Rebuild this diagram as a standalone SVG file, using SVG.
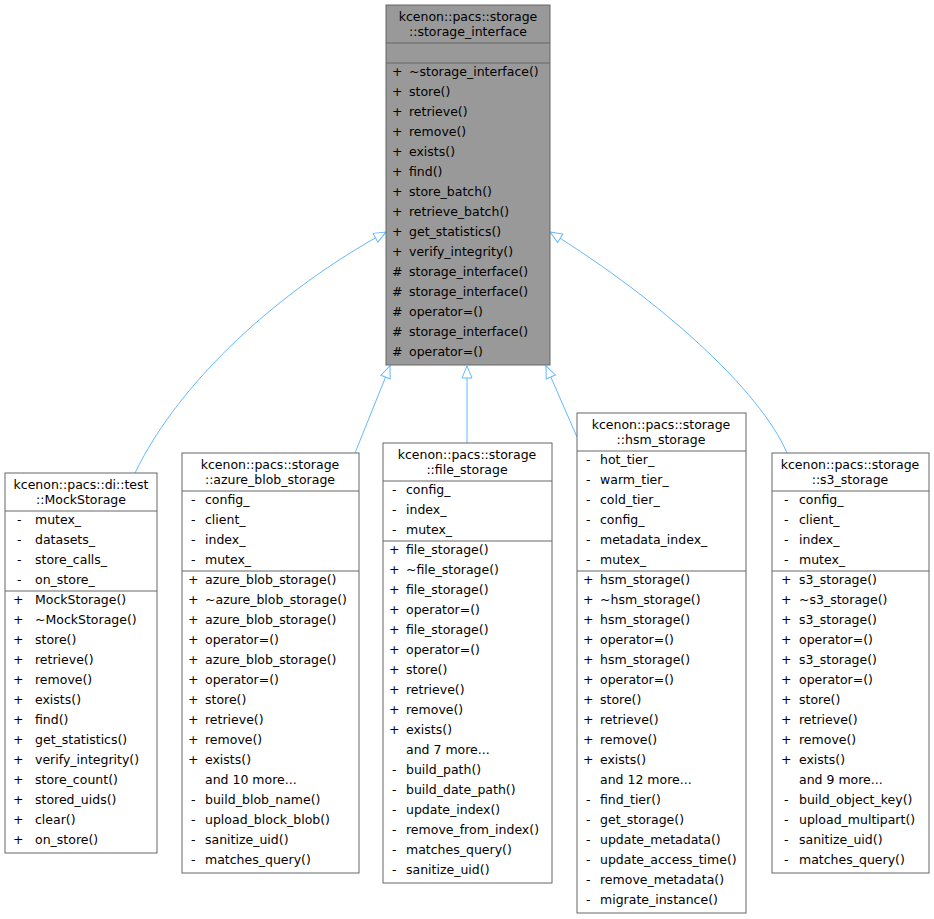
<svg xmlns="http://www.w3.org/2000/svg" width="934" height="919" viewBox="0 0 934 919">
<style>
text{font-family:"DejaVu Sans",sans-serif;font-size:12.5px;fill:#000}
.t{text-anchor:middle}
.b{fill:#fff;stroke:#666;stroke-width:1}
.g{fill:#999;stroke:#666;stroke-width:1}
.l{stroke:#666;stroke-width:1}
.e{fill:none;stroke:#63b8ff;stroke-width:1}
</style>
<defs><marker id="a" markerWidth="14" markerHeight="12" refX="13" refY="6" orient="auto" markerUnits="userSpaceOnUse"><path d="M1,1 L13,6 L1,11 Z" fill="#fff" stroke="#63b8ff"/></marker></defs>
<g id="edges">
<path class="e" d="M135,473 C180,380 280,290 386,232" marker-end="url(#a)"/>
<path class="e" d="M355,453 L390,366" marker-end="url(#a)"/>
<path class="e" d="M467,443 L467,366" marker-end="url(#a)"/>
<path class="e" d="M577,437 L546,366" marker-end="url(#a)"/>
<path class="e" d="M787,453 C760,390 660,300 550,232" marker-end="url(#a)"/>
</g>
<g id="storage_interface">
<rect class="g" x="386" y="5" width="164" height="360"/>
<line class="l" x1="386" y1="43" x2="550" y2="43"/><line class="l" x1="386" y1="63" x2="550" y2="63"/>
<text class="t" x="468" y="21">kcenon::pacs::storage</text><text class="t" x="468" y="36">::storage_interface</text>
<text x="392" y="76">+</text><text x="409" y="76">~storage_interface()</text>
<text x="392" y="96">+</text><text x="409" y="96">store()</text>
<text x="392" y="116">+</text><text x="409" y="116">retrieve()</text>
<text x="392" y="136">+</text><text x="409" y="136">remove()</text>
<text x="392" y="156">+</text><text x="409" y="156">exists()</text>
<text x="392" y="176">+</text><text x="409" y="176">find()</text>
<text x="392" y="196">+</text><text x="409" y="196">store_batch()</text>
<text x="392" y="216">+</text><text x="409" y="216">retrieve_batch()</text>
<text x="392" y="236">+</text><text x="409" y="236">get_statistics()</text>
<text x="392" y="256">+</text><text x="409" y="256">verify_integrity()</text>
<text x="392" y="276">#</text><text x="409" y="276">storage_interface()</text>
<text x="392" y="296">#</text><text x="409" y="296">storage_interface()</text>
<text x="392" y="316">#</text><text x="409" y="316">operator=()</text>
<text x="392" y="336">#</text><text x="409" y="336">storage_interface()</text>
<text x="392" y="356">#</text><text x="409" y="356">operator=()</text>
</g>
<g id="MockStorage">
<rect class="b" x="5" y="473" width="152" height="380"/>
<line class="l" x1="5" y1="511" x2="157" y2="511"/><line class="l" x1="5" y1="591" x2="157" y2="591"/>
<text class="t" x="81" y="489">kcenon::pacs::di::test</text><text class="t" x="81" y="504">::MockStorage</text>
<text x="17" y="524">-</text><text x="35" y="524">mutex_</text>
<text x="17" y="544">-</text><text x="35" y="544">datasets_</text>
<text x="17" y="564">-</text><text x="35" y="564">store_calls_</text>
<text x="17" y="584">-</text><text x="35" y="584">on_store_</text>
<text x="13" y="604">+</text><text x="35" y="604">MockStorage()</text>
<text x="13" y="624">+</text><text x="35" y="624">~MockStorage()</text>
<text x="13" y="644">+</text><text x="35" y="644">store()</text>
<text x="13" y="664">+</text><text x="35" y="664">retrieve()</text>
<text x="13" y="684">+</text><text x="35" y="684">remove()</text>
<text x="13" y="704">+</text><text x="35" y="704">exists()</text>
<text x="13" y="724">+</text><text x="35" y="724">find()</text>
<text x="13" y="744">+</text><text x="35" y="744">get_statistics()</text>
<text x="13" y="764">+</text><text x="35" y="764">verify_integrity()</text>
<text x="13" y="784">+</text><text x="35" y="784">store_count()</text>
<text x="13" y="804">+</text><text x="35" y="804">stored_uids()</text>
<text x="13" y="824">+</text><text x="35" y="824">clear()</text>
<text x="13" y="844">+</text><text x="35" y="844">on_store()</text>
</g>
<g id="azure_blob_storage">
<rect class="b" x="182" y="453" width="177" height="420"/>
<line class="l" x1="182" y1="491" x2="359" y2="491"/><line class="l" x1="182" y1="571" x2="359" y2="571"/>
<text class="t" x="270" y="469">kcenon::pacs::storage</text><text class="t" x="270" y="484">::azure_blob_storage</text>
<text x="191" y="504">-</text><text x="205" y="504">config_</text>
<text x="191" y="524">-</text><text x="205" y="524">client_</text>
<text x="191" y="544">-</text><text x="205" y="544">index_</text>
<text x="191" y="564">-</text><text x="205" y="564">mutex_</text>
<text x="188" y="584">+</text><text x="205" y="584">azure_blob_storage()</text>
<text x="188" y="604">+</text><text x="205" y="604">~azure_blob_storage()</text>
<text x="188" y="624">+</text><text x="205" y="624">azure_blob_storage()</text>
<text x="188" y="644">+</text><text x="205" y="644">operator=()</text>
<text x="188" y="664">+</text><text x="205" y="664">azure_blob_storage()</text>
<text x="188" y="684">+</text><text x="205" y="684">operator=()</text>
<text x="188" y="704">+</text><text x="205" y="704">store()</text>
<text x="188" y="724">+</text><text x="205" y="724">retrieve()</text>
<text x="188" y="744">+</text><text x="205" y="744">remove()</text>
<text x="188" y="764">+</text><text x="205" y="764">exists()</text>
<text x="205" y="784">and 10 more...</text>
<text x="191" y="804">-</text><text x="205" y="804">build_blob_name()</text>
<text x="191" y="824">-</text><text x="205" y="824">upload_block_blob()</text>
<text x="191" y="844">-</text><text x="205" y="844">sanitize_uid()</text>
<text x="191" y="864">-</text><text x="205" y="864">matches_query()</text>
</g>
<g id="file_storage">
<rect class="b" x="383" y="443" width="169" height="440"/>
<line class="l" x1="383" y1="481" x2="552" y2="481"/><line class="l" x1="383" y1="541" x2="552" y2="541"/>
<text class="t" x="467" y="459">kcenon::pacs::storage</text><text class="t" x="467" y="474">::file_storage</text>
<text x="392" y="494">-</text><text x="406" y="494">config_</text>
<text x="392" y="514">-</text><text x="406" y="514">index_</text>
<text x="392" y="534">-</text><text x="406" y="534">mutex_</text>
<text x="389" y="554">+</text><text x="406" y="554">file_storage()</text>
<text x="389" y="574">+</text><text x="406" y="574">~file_storage()</text>
<text x="389" y="594">+</text><text x="406" y="594">file_storage()</text>
<text x="389" y="614">+</text><text x="406" y="614">operator=()</text>
<text x="389" y="634">+</text><text x="406" y="634">file_storage()</text>
<text x="389" y="654">+</text><text x="406" y="654">operator=()</text>
<text x="389" y="674">+</text><text x="406" y="674">store()</text>
<text x="389" y="694">+</text><text x="406" y="694">retrieve()</text>
<text x="389" y="714">+</text><text x="406" y="714">remove()</text>
<text x="389" y="734">+</text><text x="406" y="734">exists()</text>
<text x="406" y="754">and 7 more...</text>
<text x="392" y="774">-</text><text x="406" y="774">build_path()</text>
<text x="392" y="794">-</text><text x="406" y="794">build_date_path()</text>
<text x="392" y="814">-</text><text x="406" y="814">update_index()</text>
<text x="392" y="834">-</text><text x="406" y="834">remove_from_index()</text>
<text x="392" y="854">-</text><text x="406" y="854">matches_query()</text>
<text x="392" y="874">-</text><text x="406" y="874">sanitize_uid()</text>
</g>
<g id="hsm_storage">
<rect class="b" x="577" y="413" width="169" height="500"/>
<line class="l" x1="577" y1="451" x2="746" y2="451"/><line class="l" x1="577" y1="571" x2="746" y2="571"/>
<text class="t" x="661" y="429">kcenon::pacs::storage</text><text class="t" x="661" y="444">::hsm_storage</text>
<text x="586" y="464">-</text><text x="600" y="464">hot_tier_</text>
<text x="586" y="484">-</text><text x="600" y="484">warm_tier_</text>
<text x="586" y="504">-</text><text x="600" y="504">cold_tier_</text>
<text x="586" y="524">-</text><text x="600" y="524">config_</text>
<text x="586" y="544">-</text><text x="600" y="544">metadata_index_</text>
<text x="586" y="564">-</text><text x="600" y="564">mutex_</text>
<text x="583" y="584">+</text><text x="600" y="584">hsm_storage()</text>
<text x="583" y="604">+</text><text x="600" y="604">~hsm_storage()</text>
<text x="583" y="624">+</text><text x="600" y="624">hsm_storage()</text>
<text x="583" y="644">+</text><text x="600" y="644">operator=()</text>
<text x="583" y="664">+</text><text x="600" y="664">hsm_storage()</text>
<text x="583" y="684">+</text><text x="600" y="684">operator=()</text>
<text x="583" y="704">+</text><text x="600" y="704">store()</text>
<text x="583" y="724">+</text><text x="600" y="724">retrieve()</text>
<text x="583" y="744">+</text><text x="600" y="744">remove()</text>
<text x="583" y="764">+</text><text x="600" y="764">exists()</text>
<text x="600" y="784">and 12 more...</text>
<text x="586" y="804">-</text><text x="600" y="804">find_tier()</text>
<text x="586" y="824">-</text><text x="600" y="824">get_storage()</text>
<text x="586" y="844">-</text><text x="600" y="844">update_metadata()</text>
<text x="586" y="864">-</text><text x="600" y="864">update_access_time()</text>
<text x="586" y="884">-</text><text x="600" y="884">remove_metadata()</text>
<text x="586" y="904">-</text><text x="600" y="904">migrate_instance()</text>
</g>
<g id="s3_storage">
<rect class="b" x="772" y="453" width="157" height="420"/>
<line class="l" x1="772" y1="491" x2="929" y2="491"/><line class="l" x1="772" y1="571" x2="929" y2="571"/>
<text class="t" x="850" y="469">kcenon::pacs::storage</text><text class="t" x="850" y="484">::s3_storage</text>
<text x="784" y="504">-</text><text x="799" y="504">config_</text>
<text x="784" y="524">-</text><text x="799" y="524">client_</text>
<text x="784" y="544">-</text><text x="799" y="544">index_</text>
<text x="784" y="564">-</text><text x="799" y="564">mutex_</text>
<text x="781" y="584">+</text><text x="799" y="584">s3_storage()</text>
<text x="781" y="604">+</text><text x="799" y="604">~s3_storage()</text>
<text x="781" y="624">+</text><text x="799" y="624">s3_storage()</text>
<text x="781" y="644">+</text><text x="799" y="644">operator=()</text>
<text x="781" y="664">+</text><text x="799" y="664">s3_storage()</text>
<text x="781" y="684">+</text><text x="799" y="684">operator=()</text>
<text x="781" y="704">+</text><text x="799" y="704">store()</text>
<text x="781" y="724">+</text><text x="799" y="724">retrieve()</text>
<text x="781" y="744">+</text><text x="799" y="744">remove()</text>
<text x="781" y="764">+</text><text x="799" y="764">exists()</text>
<text x="799" y="784">and 9 more...</text>
<text x="784" y="804">-</text><text x="799" y="804">build_object_key()</text>
<text x="784" y="824">-</text><text x="799" y="824">upload_multipart()</text>
<text x="784" y="844">-</text><text x="799" y="844">sanitize_uid()</text>
<text x="784" y="864">-</text><text x="799" y="864">matches_query()</text>
</g>
</svg>
